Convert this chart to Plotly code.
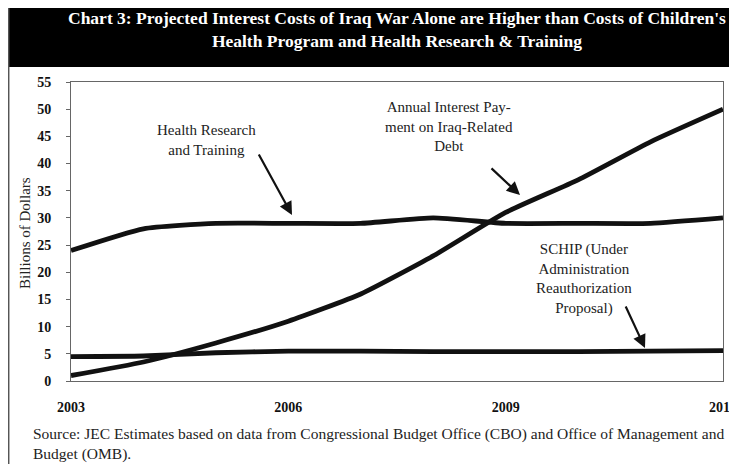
import plotly.graph_objects as go

years = [2003, 2004, 2005, 2006, 2007, 2008, 2009, 2010, 2011, 2012]
health_research = [24, 28, 29, 29, 29, 30, 29, 29, 29, 30]
iraq_interest = [1, 3.5, 7, 11, 16, 23, 31, 37, 44, 50]
schip = [4.5, 4.6, 5.2, 5.5, 5.5, 5.4, 5.4, 5.4, 5.5, 5.6]
x_ticks = [2003, 2006, 2009, 2012]
y_ticks = list(range(0, 56, 5))

FONT = "Liberation Serif"
OFF = 8  # default body margin of the html page
W, H = 737 - 2 * OFF, 472 - 2 * OFF
L, R, T, B = 71, 723, 82, 381  # plot area in page pixels


def px(x):
    return (x - L) / (R - L)


def py(y):
    return (B - y) / (B - T)


fig = go.Figure()
for ys in (health_research, iraq_interest, schip):
    fig.add_trace(go.Scatter(x=years, y=ys, mode="lines",
                             line=dict(color="#111111", width=4.8, shape="spline", smoothing=0.5),
                             showlegend=False, hoverinfo="skip"))

shapes = [
    dict(type="rect", xref="paper", yref="paper", x0=px(9), x1=px(745), y0=py(67), y1=py(0),
         fillcolor="black", line=dict(width=0), layer="below"),
    dict(type="line", xref="paper", yref="paper", x0=px(8.7), x1=px(8.7), y0=py(480), y1=py(0),
         line=dict(color="#555555", width=1.5)),
]


def txt(text, x, y, size=15, color="#222", xanchor="center", align="center", **kw):
    return dict(text=text, xref="paper", yref="paper", x=px(x), y=py(y), showarrow=False,
                xanchor=xanchor, yanchor="middle", align=align,
                font=dict(family=FONT, size=size, color=color), **kw)


annotations = [
    txt("<b>Chart 3: Projected Interest Costs of Iraq War Alone are Higher than Costs of Children's<br>Health Program and Health Research &amp; Training</b>",
        397, 30, size=17.5, color="white"),
    txt("Billions of Dollars", 25, 233, textangle=-90),
    txt("Health Research<br>and Training", 206, 140),
    txt("Annual Interest Pay-<br>ment on Iraq-Related<br>Debt", 449, 126),
    txt("SCHIP (Under<br>Administration<br>Reauthorization<br>Proposal)", 584, 279),
    txt("Source: JEC Estimates based on data from Congressional Budget Office (CBO) and Office of Management and<br>Budget (OMB).",
        31, 444, size=15.5, xanchor="left", align="left"),
]
for (hx, hy, tx, ty) in [(292, 215, 258, 153), (520, 195, 490, 167), (645, 348, 625, 305)]:
    annotations.append(dict(text="", xref="paper", yref="paper", x=px(hx), y=py(hy),
                            ax=tx - hx, ay=ty - hy, showarrow=True, arrowhead=2, arrowsize=1.2,
                            arrowwidth=2.2, arrowcolor="#111"))

fig.update_layout(
    width=W, height=H,
    margin=dict(l=L - OFF, r=W - (R - OFF), t=T - OFF, b=H - (B - OFF), autoexpand=False),
    paper_bgcolor="white", plot_bgcolor="white",
    shapes=shapes, annotations=annotations,
    xaxis=dict(range=[2003, 2012], tickvals=x_ticks, ticktext=[str(v) for v in x_ticks],
               showgrid=False, zeroline=False, ticks="", showline=True, linecolor="#666", linewidth=1,
               mirror=True, ticklabelstandoff=13, ticklabeloverflow="allow", automargin=False,
               tickfont=dict(family=FONT, size=14, color="#111", weight="bold")),
    yaxis=dict(range=[0, 55], tickvals=y_ticks, showgrid=False, zeroline=False,
               ticks="outside", ticklen=4, tickcolor="#666", showline=True, linecolor="#666", linewidth=1,
               mirror=True, ticklabelstandoff=12, automargin=False,
               tickfont=dict(family=FONT, size=14, color="#111", weight="bold")),
)

fig.write_html("out.html")
